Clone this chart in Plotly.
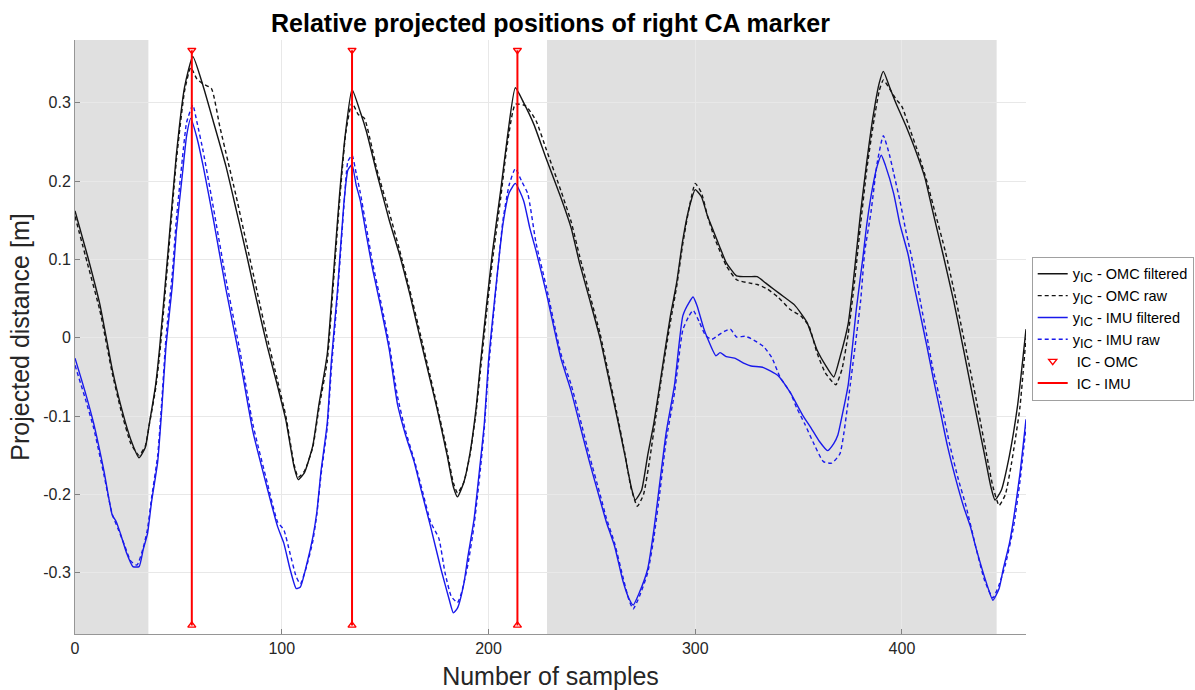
import plotly.graph_objects as go

# ---------------- data ----------------
omc_f_x = [0, 6, 12, 18, 22, 27, 31, 34, 36, 39, 41, 45, 49, 53, 57, 62, 67, 73, 78, 83, 88, 93, 98, 102, 106, 108,
           111, 115, 118, 122, 125, 128, 131, 134, 138, 141, 146, 152, 157, 162, 167, 171, 175, 180, 183, 185, 188,
           191, 194, 196, 199, 202, 206, 209, 213, 217, 222, 228, 235, 240, 244, 249, 254, 258, 262, 266, 269, 271,
           274, 277, 280, 284, 288, 291, 294, 297, 300, 303, 306, 309, 312, 315, 320, 326, 330, 334, 338, 343, 348,
           354, 359, 363, 367, 370, 374, 377, 380, 383, 386, 389, 391, 394, 397, 402, 406, 411, 415, 420, 425, 430,
           435, 440, 443, 445, 448, 452, 456, 460]
omc_f_y = [0.162, 0.105, 0.043, -0.040, -0.085, -0.130, -0.153, -0.140, -0.109, -0.060, -0.011, 0.110, 0.233, 0.320,
           0.359, 0.321, 0.275, 0.219, 0.163, 0.106, 0.046, -0.011, -0.062, -0.105, -0.165, -0.181, -0.172, -0.138,
           -0.085, -0.021, 0.080, 0.184, 0.265, 0.317, 0.288, 0.263, 0.210, 0.150, 0.106, 0.055, -0.001, -0.045,
           -0.089, -0.150, -0.190, -0.203, -0.185, -0.148, -0.090, -0.036, 0.040, 0.111, 0.190, 0.253, 0.319, 0.300,
           0.272, 0.228, 0.179, 0.140, 0.096, 0.048, -0.001, -0.050, -0.099, -0.150, -0.190, -0.207, -0.195, -0.150,
           -0.109, -0.040, 0.028, 0.070, 0.125, 0.165, 0.189, 0.180, 0.155, 0.135, 0.115, 0.096, 0.079, 0.078, 0.078,
           0.070, 0.062, 0.052, 0.042, 0.020, -0.016, -0.035, -0.050, -0.025, 0.018, 0.085, 0.160, 0.225, 0.282,
           0.325, 0.340, 0.320, 0.300, 0.270, 0.243, 0.205, 0.160, 0.105, 0.047, -0.018, -0.085, -0.150, -0.190,
           -0.207, -0.195, -0.150, -0.085, 0.011]

omc_r_x = [0, 6, 12, 18, 22, 27, 31, 34, 36, 39, 41, 45, 49, 53, 56, 59, 62, 66, 70, 74, 78, 83, 88, 93, 98, 102,
           106, 108, 111, 115, 118, 122, 125, 128, 131, 134, 137, 140, 143, 146, 152, 157, 162, 167, 171, 175, 180,
           183, 185, 188, 191, 194, 196, 199, 202, 206, 209, 213, 218, 223, 228, 235, 240, 244, 249, 254, 258, 262,
           266, 269, 272, 275, 278, 281, 284, 288, 291, 294, 297, 300, 303, 306, 309, 312, 315, 320, 326, 330, 335,
           340, 346, 351, 355, 359, 363, 368, 371, 374, 377, 380, 383, 386, 389, 391, 394, 397, 400, 404, 408, 412,
           416, 421, 426, 431, 436, 441, 444, 447, 450, 453, 457, 460]
omc_r_y = [0.155, 0.095, 0.035, -0.045, -0.090, -0.135, -0.150, -0.138, -0.110, -0.065, -0.020, 0.100, 0.225, 0.315,
           0.345, 0.330, 0.324, 0.318, 0.270, 0.225, 0.180, 0.120, 0.060, 0.000, -0.055, -0.100, -0.162, -0.178,
           -0.170, -0.140, -0.090, -0.030, 0.070, 0.175, 0.262, 0.300, 0.285, 0.280, 0.250, 0.215, 0.160, 0.112,
           0.060, 0.005, -0.040, -0.085, -0.145, -0.185, -0.198, -0.185, -0.150, -0.095, -0.045, 0.030, 0.100, 0.180,
           0.245, 0.298, 0.296, 0.277, 0.240, 0.188, 0.148, 0.105, 0.055, 0.005, -0.045, -0.095, -0.148, -0.192,
           -0.215, -0.200, -0.155, -0.100, -0.045, 0.020, 0.065, 0.120, 0.165, 0.197, 0.185, 0.155, 0.130, 0.110,
           0.092, 0.074, 0.070, 0.068, 0.062, 0.052, 0.036, 0.028, 0.015, -0.020, -0.045, -0.060, -0.040, 0.005,
           0.070, 0.145, 0.215, 0.270, 0.315, 0.329, 0.318, 0.305, 0.295, 0.265, 0.235, 0.200, 0.160, 0.110, 0.050,
           -0.015, -0.080, -0.150, -0.190, -0.214, -0.200, -0.160, -0.090, 0.000]

imu_f_x = [0, 5, 9, 14, 18, 20, 22, 25, 28, 31, 33, 35, 37, 40, 42, 44, 47, 49, 52, 54, 56, 59, 62, 67, 73, 80, 86,
           93, 98, 101, 104, 107, 109, 112, 115, 117, 119, 122, 124, 127, 130, 132, 134, 136, 138, 141, 144, 148,
           152, 156, 160, 164, 168, 172, 177, 181, 183, 185, 188, 190, 193, 196, 198, 200, 203, 207, 210, 213, 217,
           220, 223, 228, 235, 240, 244, 249, 254, 257, 261, 265, 268, 270, 273, 277, 280, 283, 286, 290, 294, 297,
           299, 301, 304, 306, 310, 312, 315, 319, 324, 327, 333, 340, 346, 352, 356, 360, 364, 367, 369, 371, 374,
           378, 381, 383, 386, 388, 390, 392, 396, 399, 403, 406, 409, 412, 415, 419, 422, 426, 430, 433, 436, 441,
           444, 447, 449, 452, 454, 457, 460]
imu_f_y = [-0.026, -0.070, -0.109, -0.170, -0.226, -0.235, -0.250, -0.275, -0.292, -0.292, -0.270, -0.251, -0.210,
           -0.158, -0.090, -0.011, 0.065, 0.135, 0.210, 0.258, 0.280, 0.255, 0.219, 0.150, 0.062, -0.031, -0.119,
           -0.192, -0.241, -0.262, -0.295, -0.320, -0.318, -0.290, -0.255, -0.222, -0.170, -0.109, -0.030, 0.062,
           0.170, 0.214, 0.221, 0.195, 0.175, 0.130, 0.087, 0.038, -0.015, -0.085, -0.125, -0.158, -0.200, -0.241,
           -0.295, -0.334, -0.351, -0.345, -0.315, -0.280, -0.232, -0.160, -0.109, -0.030, 0.050, 0.145, 0.185,
           0.197, 0.175, 0.140, 0.111, 0.057, -0.026, -0.068, -0.109, -0.160, -0.207, -0.235, -0.266, -0.310, -0.333,
           -0.341, -0.325, -0.295, -0.245, -0.182, -0.120, -0.060, 0.028, 0.045, 0.052, 0.040, 0.013, -0.001, -0.023,
           -0.019, -0.024, -0.026, -0.033, -0.036, -0.038, -0.048, -0.070, -0.099, -0.115, -0.132, -0.144, -0.135,
           -0.124, -0.100, -0.060, 0.038, 0.100, 0.145, 0.195, 0.219, 0.233, 0.220, 0.184, 0.145, 0.106, 0.065, 0.028,
           -0.010, -0.050, -0.100, -0.138, -0.180, -0.217, -0.240, -0.270, -0.314, -0.335, -0.320, -0.295, -0.262,
           -0.231, -0.175, -0.104]

imu_r_x = [0, 5, 9, 14, 18, 21, 24, 27, 30, 33, 35, 37, 40, 42, 44, 47, 49, 52, 54, 57, 59, 62, 67, 73, 80, 86, 93,
           98, 101, 104, 107, 109, 112, 115, 117, 119, 122, 124, 127, 130, 132, 134, 136, 138, 141, 144, 148, 152,
           156, 160, 164, 168, 172, 176, 179, 182, 185, 187, 190, 193, 196, 198, 200, 203, 207, 210, 213, 216, 219,
           223, 228, 235, 240, 244, 249, 254, 257, 261, 265, 268, 270, 273, 277, 280, 283, 286, 290, 294, 297, 299,
           302, 305, 308, 311, 314, 317, 320, 324, 327, 333, 337, 341, 346, 349, 353, 357, 362, 366, 370, 372, 375,
           380, 382, 385, 388, 391, 394, 396, 399, 402, 406, 409, 412, 415, 419, 423, 427, 431, 436, 440, 444, 447,
           450, 454, 457, 460]
imu_r_y = [-0.035, -0.078, -0.115, -0.175, -0.225, -0.245, -0.265, -0.285, -0.290, -0.268, -0.245, -0.205, -0.150,
           -0.080, 0.000, 0.080, 0.150, 0.230, 0.275, 0.297, 0.275, 0.238, 0.165, 0.075, -0.020, -0.110, -0.185,
           -0.235, -0.245, -0.275, -0.305, -0.314, -0.292, -0.260, -0.225, -0.175, -0.115, -0.040, 0.055, 0.165,
           0.225, 0.233, 0.210, 0.185, 0.140, 0.095, 0.045, -0.008, -0.075, -0.120, -0.155, -0.195, -0.235, -0.256,
           -0.300, -0.330, -0.338, -0.325, -0.290, -0.240, -0.170, -0.115, -0.040, 0.045, 0.150, 0.195, 0.216, 0.200,
           0.184, 0.121, 0.065, -0.020, -0.060, -0.100, -0.152, -0.200, -0.230, -0.262, -0.305, -0.335, -0.346,
           -0.330, -0.300, -0.255, -0.195, -0.130, -0.070, 0.010, 0.028, 0.035, 0.020, 0.003, -0.002, 0.003, 0.008,
           0.011, 0.001, 0.002, -0.001, -0.011, -0.025, -0.050, -0.070, -0.089, -0.110, -0.133, -0.158, -0.160,
           -0.148, -0.120, -0.060, 0.047, 0.110, 0.160, 0.223, 0.258, 0.233, 0.210, 0.175, 0.135, 0.087, 0.045,
           0.003, -0.040, -0.085, -0.135, -0.178, -0.215, -0.270, -0.310, -0.332, -0.315, -0.290, -0.241, -0.185,
           -0.114]

ic_samples = [56.5, 134, 214]
ic_top = 0.367
ic_bottom = -0.367

shade_regions = [(0, 35.5), (228.3, 445.8)]

x_ticks = [0, 100, 200, 300, 400]
y_ticks = [-0.3, -0.2, -0.1, 0, 0.1, 0.2, 0.3]
y_tick_text = ["-0.3", "-0.2", "-0.1", "0", "0.1", "0.2", "0.3"]

# ---------------- figure ----------------
BLACK = "rgb(20,20,20)"
BLUE = "rgb(25,25,235)"
RED = "rgb(255,0,0)"
FONT = "Liberation Sans, Arial, Helvetica, sans-serif"
SUB = "<sub><span style='font-size:13px'>IC</span></sub>"

fig = go.Figure()

def curve(x, y, name, color, dash=None):
    return go.Scatter(x=x, y=y, mode="lines", name=name,
                      line=dict(color=color, width=1.4, dash=dash, shape="spline", smoothing=0.5))

fig.add_trace(curve(omc_f_x, omc_f_y, "y" + SUB + " - OMC filtered", BLACK))
fig.add_trace(curve(omc_r_x, omc_r_y, "y" + SUB + " - OMC raw", BLACK, "4px,3px"))
fig.add_trace(curve(imu_f_x, imu_f_y, "y" + SUB + " - IMU filtered", BLUE))
fig.add_trace(curve(imu_r_x, imu_r_y, "y" + SUB + " - IMU raw", BLUE, "4px,3px"))

# IC vertical lines
vx, vy = [], []
for s in ic_samples:
    vx += [s, s, None]
    vy += [ic_bottom, ic_top, None]

fig.add_trace(go.Scatter(x=list(ic_samples), y=[ic_top] * len(ic_samples), mode="markers",
                         name=" IC - OMC",
                         marker=dict(symbol="triangle-down-open", color=RED, size=7, line=dict(width=1.4, color=RED))))
fig.add_trace(go.Scatter(x=vx, y=vy, mode="lines", name=" IC - IMU", line=dict(color=RED, width=2)))
fig.add_trace(go.Scatter(x=list(ic_samples), y=[ic_bottom] * len(ic_samples), mode="markers",
                         showlegend=False,
                         marker=dict(symbol="triangle-up-open", color=RED, size=7, line=dict(width=1.4, color=RED))))

for x0, x1 in shade_regions:
    fig.add_shape(type="rect", xref="x", yref="paper", x0=x0, x1=x1, y0=0, y1=1,
                  fillcolor="rgb(224,224,224)", line=dict(width=0), layer="below")

fig.update_layout(
    width=1195, height=690,
    margin=dict(l=75, r=169, t=40, b=56, autoexpand=False),
    paper_bgcolor="white", plot_bgcolor="white",
    font=dict(family=FONT, color="rgb(38,38,38)"),
    title=dict(text="<b>Relative projected positions of right CA marker</b>", xref="paper", x=0.5,
               xanchor="center", y=0.966, yanchor="middle", font=dict(size=25, color="black", family=FONT)),
    showlegend=True,
    legend=dict(x=1.006, xanchor="left", y=0.635, yanchor="top", bgcolor="white",
                bordercolor="rgb(160,160,160)", borderwidth=1,
                font=dict(size=14.5, color="black", family=FONT), tracegroupgap=0, itemwidth=30),
)

fig.update_xaxes(range=[0, 460], tickvals=x_ticks, ticks="inside", ticklen=5, tickcolor="rgb(130,130,130)",
                 showline=True, linecolor="rgb(150,150,150)", linewidth=1,
                 showgrid=True, gridcolor="rgb(232,232,232)", gridwidth=1, zeroline=False,
                 tickfont=dict(size=16, color="rgb(38,38,38)"),
                 title=dict(text="Number of samples", font=dict(size=25, color="rgb(38,38,38)"), standoff=12),
                 automargin=False)
fig.update_yaxes(range=[-0.378, 0.380], tickvals=y_ticks, ticktext=y_tick_text, ticks="inside", ticklen=5,
                 tickcolor="rgb(130,130,130)",
                 showline=True, linecolor="rgb(150,150,150)", linewidth=1,
                 showgrid=True, gridcolor="rgb(232,232,232)", gridwidth=1, zeroline=False,
                 tickfont=dict(size=16, color="rgb(38,38,38)"),
                 title=dict(text="Projected distance [m]", font=dict(size=25, color="rgb(38,38,38)"), standoff=6),
                 automargin=False)

fig.write_html("out.html")
